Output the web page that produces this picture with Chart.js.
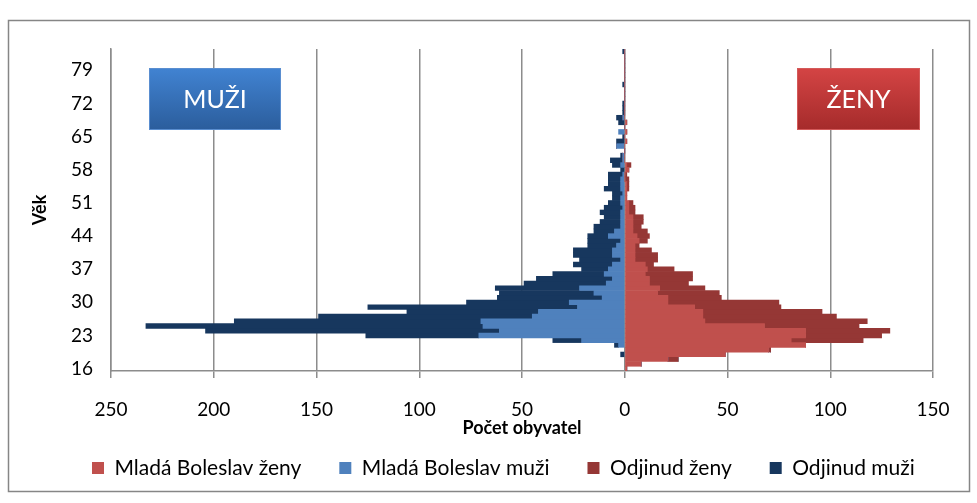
<!DOCTYPE html>
<html>
<head>
<meta charset="utf-8">
<script src="https://cdn.jsdelivr.net/npm/chart.js@4.4.1/dist/chart.umd.min.js"></script>
<style>
  html, body { margin: 0; padding: 0; background: #fff; }
</style>
</head>
<body>
<canvas id="pyramid" width="977" height="503"></canvas>
<script>
// age categories (bottom to top)
const ages = [16, 17, 18, 19, 20, 21, 22, 23, 24, 25, 26, 27, 28, 29, 30, 31, 32, 33, 34, 35,
    36, 37, 38, 39, 40, 41, 42, 43, 44, 45, 46, 47, 48, 49, 50, 51, 52, 53, 54, 55,
    56, 57, 58, 59, 60, 61, 62, 63, 64, 65, 66, 67, 68, 69, 70, 71, 72, 73, 74, 75,
    76, 77, 78, 79, 80, 81, 82, 83];

// counts per age, same order as ages
const mbZeny = [1, 8, 21, 49, 70, 88, 81, 88, 88, 68, 39, 38, 38, 34, 21, 21, 16, 17, 12, 12,
    10, 11, 10, 5, 5, 5, 5, 7, 6, 4, 4, 4, 4, 2, 2, 2, 1, 1, 1, 1,
    0, 0, 2, 1, 0, 0, 0, 0, 1, 0, 1, 0, 1, 0, 0, 0, 0, 0, 0, 0,
    0, 0, 0, 0, 0, 0, 0, 0];
const mbMuzi = [0, 0, 0, 0, 0, 3, 21, 71, 61, 69, 70, 45, 42, 23, 27, 11, 15, 22, 9, 6,
    10, 8, 6, 2, 6, 6, 4, 2, 8, 5, 2, 2, 2, 2, 1, 2, 2, 1, 2, 2,
    2, 1, 0, 2, 1, 1, 0, 4, 0, 0, 3, 0, 0, 1, 0, 0, 0, 0, 0, 0,
    0, 0, 0, 0, 0, 0, 0, 0];
const odZeny = [0, 0, 5, 0, 1, 0, 35, 37, 41, 46, 79, 65, 58, 42, 54, 26, 30, 22, 19, 21,
    23, 13, 4, 11, 11, 8, 2, 4, 6, 7, 4, 5, 5, 3, 3, 2, 0, 0, 1, 1,
    2, 1, 0, 2, 0, 0, 0, 0, 0, 0, 0, 0, 0, 0, 0, 0, 0, 0, 0, 0,
    0, 0, 0, 0, 0, 0, 0, 0];
const odMuzi = [0, 0, 0, 2, 0, 2, 14, 55, 143, 164, 120, 104, 64, 102, 50, 51, 46, 41, 40, 37,
    25, 13, 19, 20, 19, 19, 14, 16, 10, 10, 13, 10, 8, 10, 9, 6, 4, 5, 8, 6,
    6, 7, 2, 4, 6, 1, 0, 0, 4, 1, 0, 0, 3, 3, 1, 1, 1, 0, 0, 0,
    1, 0, 0, 0, 0, 0, 0, 1];

const xTicks = [-250, -200, -150, -100, -50, 0, 50, 100, 150];

const font = 'Lato, "Open Sans", sans-serif';
const legendStartX = 92; // left edge of the first legend square

// frame round the chart, legend placement and the two labels MUŽI / ŽENY
const extras = {
    id: 'extras',
    afterLayout(chart) {
        const lg = chart.legend;
        if (!lg || !lg.lineWidths) return;
        const pad = lg.options.labels.padding;
        const start = (lg.left + pad + lg.right - lg.lineWidths[0]) / 2;
        const shift = legendStartX - start;
        lg.left += shift;
        lg.right += shift;
    },
    beforeDraw(chart) {
        const c = chart.ctx;
        c.save();
        c.fillStyle = '#fff';
        c.fillRect(0, 0, chart.width, chart.height);
        c.strokeStyle = '#868686';
        c.lineWidth = 1.5;
        c.strokeRect(8.5, 20.5, 961, 471);
        c.restore();
    },
    afterDraw(chart) {
        const c = chart.ctx;
        const box = (x, y, w, h, top, bottom, edge, text) => {
            const g = c.createLinearGradient(0, y, 0, y + h);
            g.addColorStop(0, top);
            g.addColorStop(1, bottom);
            c.fillStyle = g;
            c.fillRect(x, y, w, h);
            c.strokeStyle = edge;
            c.lineWidth = 1;
            c.strokeRect(x + 0.5, y + 0.5, w - 1, h - 1);
            c.fillStyle = '#fff';
            c.font = '25px ' + font;
            c.textAlign = 'center';
            c.textBaseline = 'middle';
            c.fillText(text, x + w / 2, y + h / 2 + 1);
        };
        c.save();
        box(149, 68, 132, 62, '#4183d2', '#2b5d9c', '#5a8ed0', 'MUŽI');
        box(797, 68, 123, 62, '#d44444', '#a52b2b', '#d45a5a', 'ŽENY');
        c.restore();
    }
};

new Chart(document.getElementById('pyramid'), {
    type: 'bar',
    data: {
        labels: ages,
        datasets: [
            { label: 'Mladá Boleslav ženy', data: mbZeny, backgroundColor: '#C0504D' },
            { label: 'Mladá Boleslav muži', data: mbMuzi.map(v => -v), backgroundColor: '#4F81BD' },
            { label: 'Odjinud ženy', data: odZeny, backgroundColor: '#953735' },
            { label: 'Odjinud muži', data: odMuzi.map(v => -v), backgroundColor: '#17375E' }
        ]
    },
    options: {
        indexAxis: 'y',
        responsive: false,
        animation: false,
        devicePixelRatio: 1,
        layout: { padding: { top: 49, left: 0, right: 44, bottom: 14.6 } },
        datasets: {
            bar: { categoryPercentage: 1, barPercentage: 1, borderWidth: 0 }
        },
        scales: {
            x: {
                stacked: true,
                min: -250,
                max: 150,
                afterBuildTicks: (scale) => { scale.ticks = xTicks.map(v => ({ value: v })); },
                afterFit: (scale) => { scale.height = 48.4; },
                ticks: {
                    color: '#000',
                    font: { family: font, size: 19 },
                    padding: 20.6,
                    maxRotation: 0,
                    callback: (v) => Math.abs(v)
                },
                grid: { color: '#8c8c8c', lineWidth: 1.5, tickLength: 7 },
                border: { color: '#8c8c8c', width: 1.5 },
                title: {
                    display: true,
                    text: 'Počet obyvatel',
                    color: '#000',
                    font: { family: font, size: 18, weight: 'bold' },
                    padding: { top: 0, bottom: -19.4 }
                }
            },
            y: {
                stacked: true,
                reverse: true,
                afterFit: (scale) => { scale.width = 111; },
                ticks: {
                    autoSkip: false,
                    color: '#000',
                    font: { family: font, size: 19 },
                    padding: 18,
                    callback: function (v) {
                        const age = this.getLabelForValue(v);
                        return (age - 16) % 7 === 0 ? age : '';
                    }
                },
                grid: { display: false, drawTicks: false },
                border: { color: '#8c8c8c', width: 1.5 },
                title: {
                    display: true,
                    text: 'Věk',
                    color: '#000',
                    font: { family: font, size: 18, weight: 'bold' },
                    padding: { top: 29, bottom: 0 }
                }
            }
        },
        plugins: {
            legend: {
                position: 'bottom',
                labels: {
                    color: '#000',
                    font: { family: font, size: 21 },
                    boxWidth: 12,
                    boxHeight: 12,
                    padding: 38
                }
            },
            tooltip: { enabled: false }
        }
    },
    plugins: [extras]
});
</script>
</body>
</html>
